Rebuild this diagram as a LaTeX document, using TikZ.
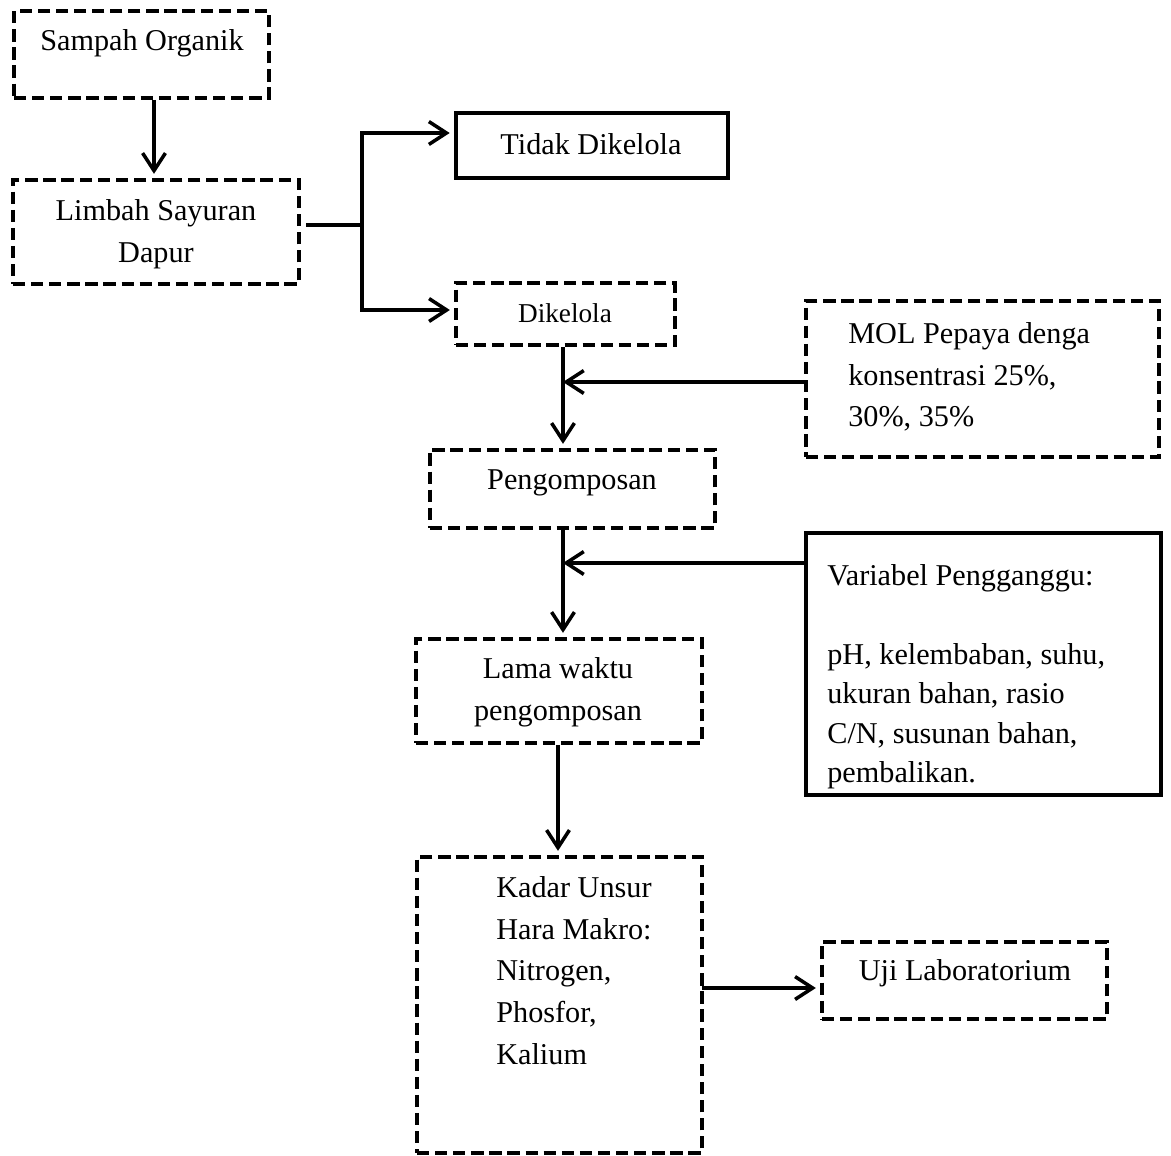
\documentclass[tikz,border=0pt]{standalone}
\usepackage{fontspec}
\setmainfont{Liberation Serif}
\usetikzlibrary{arrows.meta,fit}
\tikzset{
  dbox/.style={draw,line width=2pt,dash pattern=on 7pt off 3.3pt,inner sep=0pt},
  sbox/.style={draw,line width=2.2pt,inner sep=0pt},
  txt/.style={inner sep=0pt,font=\fontsize{17.2}{23.8}\selectfont},
  flow/.style={draw,line width=2pt,-{Straight Barb[length=10pt,width=13pt,line width=2pt]},shorten >=2.5pt},
  branchline/.style={draw,line width=2pt}
}

\begin{document}
\begin{tikzpicture}[x=0.02cm,y=-0.02cm]
\useasboundingbox (0,0) rectangle (1171,1156);
\node[dbox,fit={(14,11)(269,98)}] (sampah) {};
\node[txt,anchor=base] (sampahT) at (142,51) {Sampah Organik};
\node[dbox,fit={(13,180)(299,284)}] (limbah) {};
\node[txt,anchor=north,align=center] (limbahT) at (156,199) {Limbah Sayuran\\Dapur};
\node[sbox,fit={(456,113)(728,178)}] (tidak) {};
\node[txt,anchor=base] (tidakT) at (591,154) {Tidak Dikelola};
\node[dbox,fit={(456,283)(675,345)}] (dikelola) {};
\node[txt,anchor=base,font=\fontsize{15.5}{20}\selectfont] (dikelolaT) at (565,322) {Dikelola};
\node[dbox,fit={(806,301)(1159,457)}] (mol) {};
\node[txt,anchor=north west,align=left] (molT) at (848,322) {MOL Pepaya denga\\konsentrasi 25\%,\\30\%, 35\%};
\node[dbox,fit={(430,450)(715,528)}] (kompos) {};
\node[txt,anchor=base] (komposT) at (572,489) {Pengomposan};
\node[sbox,fit={(806,533)(1161,795)}] (variabel) {};
\node[txt,anchor=north west,align=left,font=\fontsize{17.2}{22.5}\selectfont] (variabelT) at (827,564)
  {Variabel Pengganggu:\\[\baselineskip]pH, kelembaban, suhu,\\ukuran bahan, rasio\\C/N, susunan bahan,\\pembalikan.};
\node[dbox,fit={(416,639)(702,743)}] (lama) {};
\node[txt,anchor=north,align=center] (lamaT) at (558,657) {Lama waktu\\pengomposan};
\node[dbox,fit={(417,857)(702,1153)}] (kadar) {};
\node[txt,anchor=north west,align=left] (kadarT) at (496,876) {Kadar Unsur\\Hara Makro:\\Nitrogen,\\Phosfor,\\Kalium};
\node[dbox,fit={(822,942)(1107,1019)}] (uji) {};
\node[txt,anchor=base] (ujiT) at (965,980) {Uji Laboratorium};

\coordinate (limbahout) at (306,225);
\coordinate (split) at (362,225);
\coordinate (molin) at (563,382);
\coordinate (varin) at (563,563);
\coordinate (kadarout) at (702,988);
\draw[flow] (sampah.south -| 154,0) -- (limbah.north -| 154,0);
\draw[branchline] (limbahout) -- (split);
\draw[flow] (split) |- (tidak.west |- 0,133);
\draw[flow] (split) |- (dikelola.west |- 0,310);
\draw[flow] (dikelola.south -| molin) -- (kompos.north -| molin);
\draw[flow,shorten >=0pt] (mol.west |- molin) -- (molin);
\draw[flow] (kompos.south -| varin) -- (lama.north -| varin);
\draw[flow,shorten >=0pt] (variabel.west |- varin) -- (varin);
\draw[flow] (lama.south -| 558,0) -- (kadar.north -| 558,0);
\draw[flow] (kadarout) -- (uji.west |- kadarout);
\end{tikzpicture}
\end{document}
